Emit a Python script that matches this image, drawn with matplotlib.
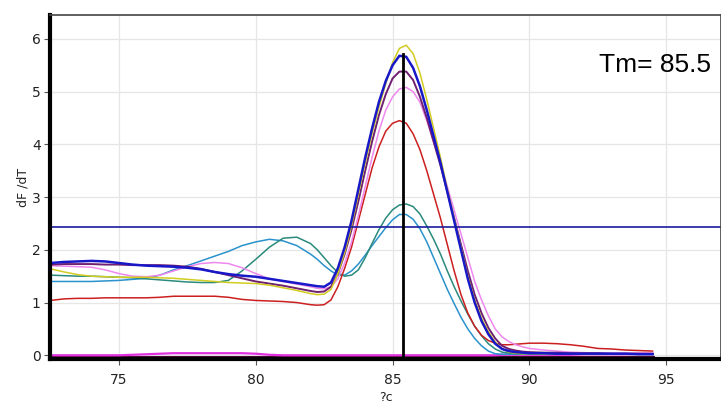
import matplotlib
matplotlib.use("Agg")
import matplotlib.pyplot as plt
import numpy as np

# temperature grid (degrees C) shared by all melt curves
temps = [72.5, 73, 73.5, 74, 74.5, 75, 75.5, 76, 76.5, 77, 77.5, 78, 78.5, 79, 79.5,
         80, 80.5, 81, 81.5, 82,
         82.25, 82.5, 82.75, 83, 83.25, 83.5, 83.75, 84, 84.25, 84.5, 84.75, 85,
         85.25, 85.5, 85.75, 86, 86.25, 86.5, 86.75, 87, 87.25, 87.5, 87.75, 88,
         88.25, 88.5, 88.75, 89, 89.25, 89.5, 89.75, 90,
         90.5, 91, 91.5, 92, 92.5, 93, 93.5, 94, 94.5]

yellow = [1.64, 1.58, 1.53, 1.50, 1.49, 1.48, 1.48, 1.48, 1.47, 1.46, 1.44, 1.42, 1.40, 1.38, 1.37,
          1.36, 1.33, 1.28, 1.23, 1.17,
          1.15, 1.16, 1.25, 1.55, 1.95, 2.45, 3.05, 3.65, 4.20, 4.70, 5.15, 5.55,
          5.82, 5.88, 5.72, 5.35, 4.85, 4.30, 3.75, 3.15, 2.60, 2.05, 1.50, 1.05,
          0.70, 0.45, 0.25, 0.12, 0.06, 0.04, 0.03, 0.03,
          0.03, 0.03, 0.02, 0.02, 0.02, 0.02, 0.02, 0.02, 0.02]

blue = [1.75, 1.77, 1.78, 1.79, 1.78, 1.75, 1.72, 1.70, 1.69, 1.68, 1.66, 1.63, 1.58, 1.54, 1.51,
        1.49, 1.45, 1.41, 1.37, 1.33,
        1.31, 1.30, 1.38, 1.65, 2.05, 2.55, 3.15, 3.75, 4.30, 4.80, 5.20, 5.50,
        5.68, 5.66, 5.45, 5.10, 4.65, 4.15, 3.65, 3.10, 2.55, 2.00, 1.45, 1.00,
        0.65, 0.40, 0.22, 0.12, 0.08, 0.06, 0.05, 0.04,
        0.04, 0.03, 0.03, 0.03, 0.03, 0.03, 0.03, 0.02, 0.02]

purple = [1.72, 1.73, 1.73, 1.73, 1.72, 1.72, 1.71, 1.71, 1.71, 1.70, 1.68, 1.64, 1.58, 1.52, 1.46,
          1.40, 1.36, 1.32, 1.27, 1.22,
          1.20, 1.21, 1.30, 1.55, 1.92, 2.38, 2.92, 3.50, 4.05, 4.55, 4.95, 5.25,
          5.38, 5.38, 5.22, 4.90, 4.50, 4.05, 3.60, 3.10, 2.60, 2.10, 1.60, 1.15,
          0.80, 0.52, 0.32, 0.18, 0.12, 0.09, 0.07, 0.06,
          0.05, 0.05, 0.04, 0.04, 0.04, 0.03, 0.03, 0.03, 0.03]

violet = [1.70, 1.69, 1.68, 1.67, 1.62, 1.55, 1.50, 1.49, 1.52, 1.60, 1.68, 1.74, 1.76, 1.74, 1.66,
          1.55, 1.45, 1.40, 1.35, 1.30,
          1.27, 1.26, 1.30, 1.45, 1.75, 2.15, 2.65, 3.20, 3.75, 4.25, 4.65, 4.90,
          5.05, 5.08, 5.00, 4.80, 4.45, 4.05, 3.65, 3.20, 2.75, 2.30, 1.85, 1.40,
          1.05, 0.75, 0.50, 0.35, 0.26, 0.20, 0.16, 0.13,
          0.10, 0.08, 0.06, 0.05, 0.04, 0.04, 0.04, 0.04, 0.04]

red = [1.04, 1.07, 1.08, 1.08, 1.09, 1.09, 1.09, 1.09, 1.10, 1.12, 1.12, 1.12, 1.12, 1.10, 1.06,
       1.04, 1.03, 1.02, 1.00, 0.96,
       0.95, 0.96, 1.05, 1.30, 1.65, 2.05, 2.55, 3.05, 3.55, 3.95, 4.25, 4.40,
       4.45, 4.40, 4.20, 3.90, 3.50, 3.05, 2.60, 2.10, 1.60, 1.15, 0.80, 0.55,
       0.38, 0.28, 0.23, 0.20, 0.20, 0.21, 0.22, 0.23,
       0.23, 0.22, 0.20, 0.17, 0.13, 0.12, 0.10, 0.09, 0.08]

teal = [1.52, 1.51, 1.50, 1.50, 1.49, 1.48, 1.47, 1.45, 1.43, 1.41, 1.39, 1.38, 1.38, 1.42, 1.60,
        1.82, 2.05, 2.22, 2.24, 2.12,
        2.00, 1.85, 1.70, 1.57, 1.50, 1.52, 1.62, 1.85, 2.12, 2.38, 2.60, 2.76,
        2.85, 2.87, 2.82, 2.68, 2.45, 2.20, 1.92, 1.60, 1.30, 1.03, 0.78, 0.55,
        0.37, 0.22, 0.12, 0.06, 0.04, 0.03, 0.03, 0.03,
        0.03, 0.03, 0.03, 0.03, 0.03, 0.02, 0.02, 0.02, 0.02]

lightblue = [1.40, 1.40, 1.40, 1.40, 1.41, 1.42, 1.44, 1.46, 1.52, 1.62, 1.70, 1.79, 1.88, 1.97, 2.08,
             2.15, 2.20, 2.17, 2.08, 1.92,
             1.82, 1.70, 1.60, 1.52, 1.52, 1.60, 1.73, 1.90, 2.08, 2.25, 2.42, 2.57,
             2.67, 2.67, 2.58, 2.40, 2.15, 1.85, 1.55, 1.25, 0.98, 0.72, 0.50, 0.32,
             0.18, 0.08, 0.03, 0.02, 0.02, 0.02, 0.02, 0.02,
             0.02, 0.02, 0.02, 0.02, 0.02, 0.02, 0.02, 0.02, 0.02]

magenta = [0.00, 0.00, 0.00, 0.00, 0.00, 0.00, 0.01, 0.02, 0.03, 0.04, 0.04, 0.04, 0.04, 0.04, 0.04,
           0.03, 0.01, 0.00, 0.00, 0.00,
           0.00, 0.00, 0.00, 0.00, 0.00, 0.00, 0.00, 0.00, 0.00, 0.00, 0.00, 0.00,
           0.00, 0.00, 0.00, 0.00, 0.00, 0.00, 0.00, 0.00, 0.00, 0.00, 0.00, 0.00,
           0.00, 0.00, 0.00, 0.01, 0.01, 0.01, 0.01, 0.01,
           0.01, 0.01, 0.01, 0.02, 0.02, 0.02, 0.02, 0.03, 0.03]

maroon = [-0.04] * len(temps)

threshold = 2.44
tm_line = 85.38
tm_top = 5.72

fig = plt.figure(figsize=(7.21, 4.05), dpi=100)
ax = fig.add_axes([0.070, 0.1136, 0.930, 0.849])

ax.grid(True, color="#e6e6e6", linewidth=0.9)
ax.set_axisbelow(True)

ax.plot(temps, maroon, color="#4a0a30", linewidth=2.2)
ax.plot(temps, magenta, color="#e030e0", linewidth=1.6)
ax.plot(temps, lightblue, color="#2a92cc", linewidth=1.1)
ax.plot(temps, teal, color="#2a8a7c", linewidth=1.1)
ax.plot(temps, red, color="#cc2020", linewidth=1.1)
ax.plot(temps, violet, color="#ee88ee", linewidth=1.1)
ax.plot(temps, purple, color="#702070", linewidth=1.4)
ax.plot(temps, yellow, color="#d2cc20", linewidth=1.1)
ax.plot(temps, blue, color="#1818c8", linewidth=1.8)

ax.axhline(threshold, color="#1a1aa0", linewidth=1.2)
ax.plot([tm_line, tm_line], [-0.07, tm_top], color="black", linewidth=2.0)

ax.text(0.985, 0.855, "Tm= 85.5", transform=ax.transAxes, ha="right", va="center",
        fontsize=19, family="Liberation Sans")

ax.set_xlim(72.5, 97.0)
ax.set_ylim(-0.07, 6.45)
ax.set_xticks([75, 80, 85, 90, 95])
ax.set_yticks([0, 1, 2, 3, 4, 5, 6])
ax.tick_params(axis="both", labelsize=10, length=4, width=0.8, color="#555555",
               labelcolor="#222222")
ax.tick_params(axis="x", pad=6)
ax.tick_params(axis="y", pad=3)

ax.set_xlabel("?c", fontsize=9, labelpad=3, color="#222222")
ax.set_ylabel("dF /dT", fontsize=9, labelpad=2, color="#222222")

ax.spines["left"].set_linewidth(3)
ax.spines["bottom"].set_linewidth(3)
ax.spines["top"].set_linewidth(1.2)
ax.spines["top"].set_color("#444444")
ax.spines["right"].set_linewidth(1.2)
ax.spines["right"].set_color("#444444")

fig.savefig("out.png", dpi=100)
